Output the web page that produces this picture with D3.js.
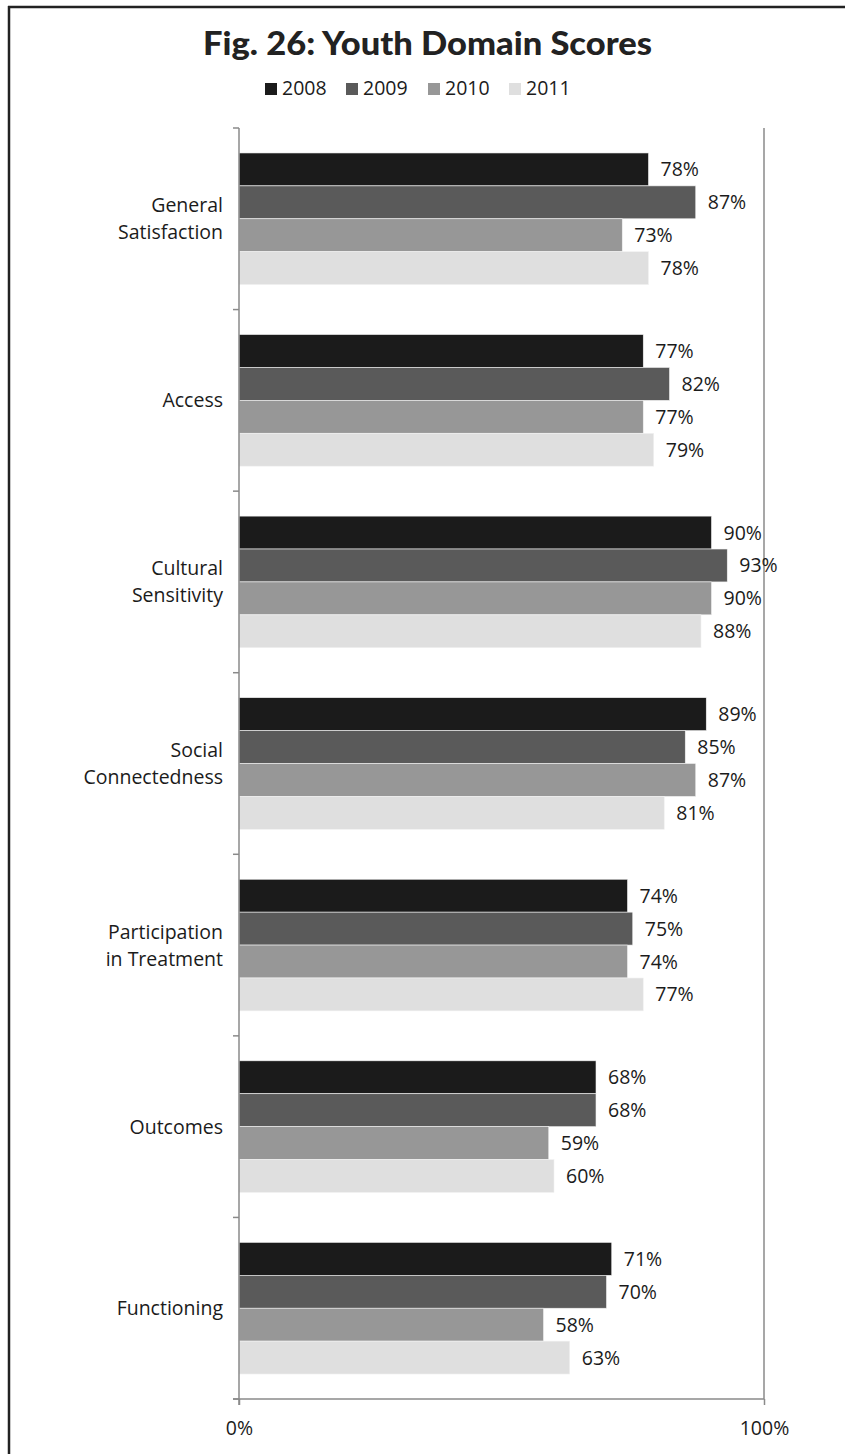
<!DOCTYPE html>
<html>
<head>
<meta charset="utf-8">
<script src="https://cdn.jsdelivr.net/npm/d3@7/dist/d3.min.js"></script>
<style>
  html, body { margin: 0; padding: 0; background: #fff; }
  svg { display: block; }
</style>
</head>
<body>
<script>
// Youth domain scores by year (percent)
const categories = [
  ["General", "Satisfaction"],
  ["Access"],
  ["Cultural", "Sensitivity"],
  ["Social", "Connectedness"],
  ["Participation", "in Treatment"],
  ["Outcomes"],
  ["Functioning"]
];
const years = ["2008", "2009", "2010", "2011"];
const values2008 = [78, 77, 90, 89, 74, 68, 71];
const values2009 = [87, 82, 93, 85, 75, 68, 70];
const values2010 = [73, 77, 90, 87, 74, 59, 58];
const values2011 = [78, 79, 88, 81, 77, 60, 63];
const xTickLabels = ["0%", "100%"];
const xTickValues = [0, 100];

const seriesValues = [values2008, values2009, values2010, values2011];
const colors = ["#1b1b1b", "#5a5a5a", "#979797", "#dfdfdf"];

const W = 845, H = 1454;
const plotLeft = 239, plotRight = 764, plotTop = 128, plotBottom = 1399;
const labelFont = "'Open Sans', 'Noto Sans', sans-serif";
const labelSize = 19.5;
const textColor = "#1b1b1b";

const svg = d3.select("body").append("svg")
  .attr("width", W).attr("height", H);

// Outer frame (left and top edges)
svg.append("line").attr("x1", 9).attr("x2", 9).attr("y1", 6).attr("y2", H)
  .attr("stroke", "#222").attr("stroke-width", 2.5);
svg.append("line").attr("x1", 8).attr("x2", W).attr("y1", 7).attr("y2", 7)
  .attr("stroke", "#222").attr("stroke-width", 2.5);

// Title
svg.append("text")
  .attr("x", 203).attr("y", 55)
  .attr("textLength", 449)
  .attr("lengthAdjust", "spacingAndGlyphs")
  .attr("font-family", "Lato, 'DejaVu Sans', sans-serif")
  .attr("font-weight", 900)
  .attr("font-size", 33)
  .attr("fill", "#222")
  .text("Fig. 26: Youth Domain Scores");

// Legend
const legendX = [265, 346, 428, 509];
const legend = svg.append("g");
years.forEach((yr, i) => {
  legend.append("rect")
    .attr("x", legendX[i]).attr("y", 83).attr("width", 12).attr("height", 12)
    .attr("fill", colors[i]);
  legend.append("text")
    .attr("x", legendX[i] + 17).attr("y", 95)
    .attr("font-family", labelFont).attr("font-size", labelSize)
    .attr("fill", textColor)
    .text(yr);
});

// Scales
const x = d3.scaleLinear().domain([0, 100]).range([plotLeft, plotRight]);
const y = d3.scaleBand()
  .domain(d3.range(categories.length))
  .range([plotTop, plotBottom])
  .paddingInner(0.275)
  .paddingOuter(0.1375);
const ySub = d3.scaleBand()
  .domain(d3.range(years.length))
  .range([0, y.bandwidth()]);

// 100% reference line on the right
svg.append("line")
  .attr("x1", x(100)).attr("x2", x(100))
  .attr("y1", plotTop).attr("y2", plotBottom)
  .attr("stroke", "#8a8a8a").attr("stroke-width", 1.5);

// Bars
const groups = svg.append("g").selectAll("g")
  .data(categories.map((c, i) => i))
  .join("g")
  .attr("transform", i => `translate(0,${y(i)})`);

groups.selectAll("rect")
  .data(i => seriesValues.map((s, k) => ({ k, v: s[i] })))
  .join("rect")
  .attr("x", x(0))
  .attr("y", d => ySub(d.k))
  .attr("width", d => x(d.v) - x(0))
  .attr("height", ySub.bandwidth())
  .attr("fill", d => colors[d.k])
  .attr("stroke", "#f2f2f2")
  .attr("stroke-width", 0.6);

groups.selectAll("text.val")
  .data(i => seriesValues.map((s, k) => ({ k, v: s[i] })))
  .join("text")
  .attr("class", "val")
  .attr("x", d => x(d.v) + 12)
  .attr("y", d => ySub(d.k) + ySub.bandwidth() / 2 + 7)
  .attr("font-family", labelFont).attr("font-size", labelSize)
  .attr("fill", textColor)
  .text(d => d.v + "%");

// Category axis with ticks at band boundaries
const axisColor = "#8a8a8a";
svg.append("line")
  .attr("x1", plotLeft).attr("x2", plotLeft).attr("y1", plotTop).attr("y2", plotBottom + 6)
  .attr("stroke", axisColor).attr("stroke-width", 1.5);
const boundaries = d3.range(categories.length + 1).map(i => plotTop + i * y.step());
svg.append("g").selectAll("line")
  .data(boundaries)
  .join("line")
  .attr("x1", plotLeft - 6).attr("x2", plotLeft)
  .attr("y1", d => d).attr("y2", d => d)
  .attr("stroke", axisColor).attr("stroke-width", 1.5);

// Category labels
const catLabels = svg.append("g").selectAll("text")
  .data(categories)
  .join("text")
  .attr("text-anchor", "end")
  .attr("font-family", labelFont).attr("font-size", labelSize)
  .attr("fill", textColor)
  .attr("transform", (d, i) => `translate(${plotLeft - 16},${y(i) + y.bandwidth() / 2})`);
catLabels.selectAll("tspan")
  .data(d => d.map((t, j) => ({ t, j, n: d.length })))
  .join("tspan")
  .attr("x", 0)
  .attr("y", d => (d.j - (d.n - 1) / 2) * 27 + 7)
  .text(d => d.t);

// Value axis
const xAxis = d3.axisBottom(x)
  .tickValues(xTickValues)
  .tickFormat((d, i) => xTickLabels[i])
  .tickSize(6)
  .tickSizeOuter(0);
const gx = svg.append("g")
  .attr("transform", `translate(0,${plotBottom})`)
  .call(xAxis);
gx.select(".domain").attr("stroke", axisColor).attr("stroke-width", 1.5)
  .attr("d", `M${plotLeft - 6},0H${plotRight}`);
gx.selectAll(".tick line").attr("stroke", axisColor).attr("stroke-width", 1.5);
gx.selectAll(".tick text")
  .attr("font-family", labelFont).attr("font-size", labelSize)
  .attr("fill", textColor)
  .attr("dy", 0).attr("y", 36);
</script>
</body>
</html>
